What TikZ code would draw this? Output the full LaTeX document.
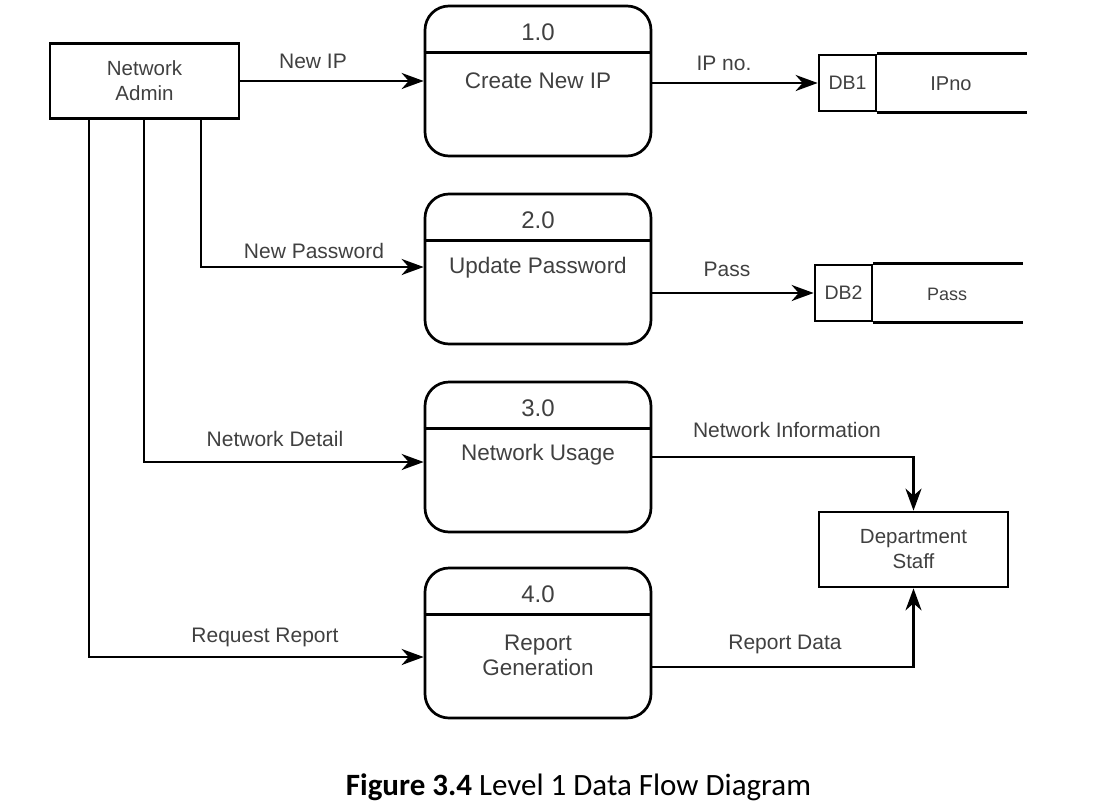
\documentclass[tikz,border=0pt]{standalone}
\usepackage{fontspec}
\setmainfont{Liberation Sans}
\newfontfamily\capfont{Carlito}
\usetikzlibrary{arrows.meta,calc}
\definecolor{txt}{gray}{0.25}
\tikzset{
  ent/.style={draw, line width=2.7pt, minimum width=189pt, minimum height=75pt, inner sep=0pt, align=center, text=txt, font=\fontsize{20.5}{25}\selectfont},
  proc/.style={draw, line width=2.7pt, rounded corners=24pt, minimum width=226pt, minimum height=150pt, inner sep=0pt},
  ptitle/.style={text=txt, font=\fontsize{24}{28}\selectfont, inner sep=0pt},
  pname/.style={text=txt, font=\fontsize{22.5}{25}\selectfont, align=center, inner sep=0pt},
  dbid/.style={draw, line width=2.7pt, minimum width=57pt, minimum height=56pt, inner sep=0pt, text=txt, font=\fontsize{19.5}{22}\selectfont},
  dbname/.style={text=txt, inner sep=0pt},
  lbl/.style={text=txt, font=\fontsize{21}{24}\selectfont, inner sep=0pt},
  flow/.style={line width=2.7pt, -{Stealth[length=22pt,width=16pt,inset=7pt]}},
  plain/.style={line width=2.7pt},
}
\begin{document}
\begin{tikzpicture}[x=1pt,y=-1pt]
\useasboundingbox (0,0) rectangle (1098,809);
% external entities
\node[ent] (admin) at (144.5,81) {Network\\Admin};
\node[ent] (staff) at (913.5,549.5) {Department\\Staff};
% processes
\foreach \n/\t in {1/6,2/194,3/382,4/568}{
  \node[proc] (p\n) at (538,\t+75) {};
  \draw[plain] ([yshift=-48pt]p\n.north west) -- ([yshift=-48pt]p\n.north east);
}
\node[ptitle] (t1) at (538,32) {1.0};
\node[ptitle] (t2) at (538,220) {2.0};
\node[ptitle] (t3) at (538,408) {3.0};
\node[ptitle] (t4) at (538,594) {4.0};
\node[pname] (n1) at (538,81) {Create New IP};
\node[pname] (n2) at (538,268) {Update Password};
\node[pname] (n3) at (538,455) {Network Usage};
\node[pname] (n4) at (538,655) {Report\\Generation};
% data stores
\node[dbid] (db1) at (847.5,83) {DB1};
\draw[plain] (db1.north east) -- ++(150,0) coordinate (db1e);
\draw[plain] (db1.south east) -- ++(150,0) coordinate (db1f);
\node[dbname, font=\fontsize{20}{22}\selectfont] (db1n) at (951,84) {IPno};
\node[dbid] (db2) at (843.5,293) {DB2};
\draw[plain] (db2.north east) -- ++(150,0) coordinate (db2e);
\draw[plain] (db2.south east) -- ++(150,0) coordinate (db2f);
\node[dbname, font=\fontsize{18}{20}\selectfont] (db2n) at (947,294) {Pass};
% coordinates for the admin drop lines
\coordinate (x4) at (89,0);
\coordinate (x3) at (144,0);
\coordinate (x2) at (201,0);
\path (p2.west) ++(0,-2) coordinate (in2);
\path (p3.west) ++(0,5) coordinate (in3);
\path (p4.west) ++(0,14) coordinate (in4);
% flows
\draw[flow] (admin.east |- p1.west) -- (p1.west);
\draw[flow] (admin.south -| x2) |- (in2);
\draw[flow] (admin.south -| x3) |- (in3);
\draw[flow] (admin.south -| x4) |- (in4);
\draw[flow] (p1.east |- db1.west) -- (db1.west);
\draw[flow] (p2.east |- db2.west) -- (db2.west);
\draw[flow] (p3.east) -| (staff.north);
\draw[flow] ([yshift=-24pt]p4.east) -| (staff.south);
% labels
\node[lbl] (l1) at (313,61) {New IP};
\node[lbl] (l2) at (724,63) {IP no.};
\node[lbl] (l3) at (314,251) {New Password};
\node[lbl] (l4) at (727,269) {Pass};
\node[lbl] (l5) at (275,439) {Network Detail};
\node[lbl] (l6) at (787,430) {Network Information};
\node[lbl] (l7) at (265,637) {Request Report};
\node[lbl] (l8) at (785,644) {Report Data};
% caption
\node[inner sep=0pt, font=\capfont\fontsize{31}{34}\selectfont] (cap) at (578.5,787) {\textbf{Figure 3.4} Level 1 Data Flow Diagram};
\end{tikzpicture}
\end{document}
